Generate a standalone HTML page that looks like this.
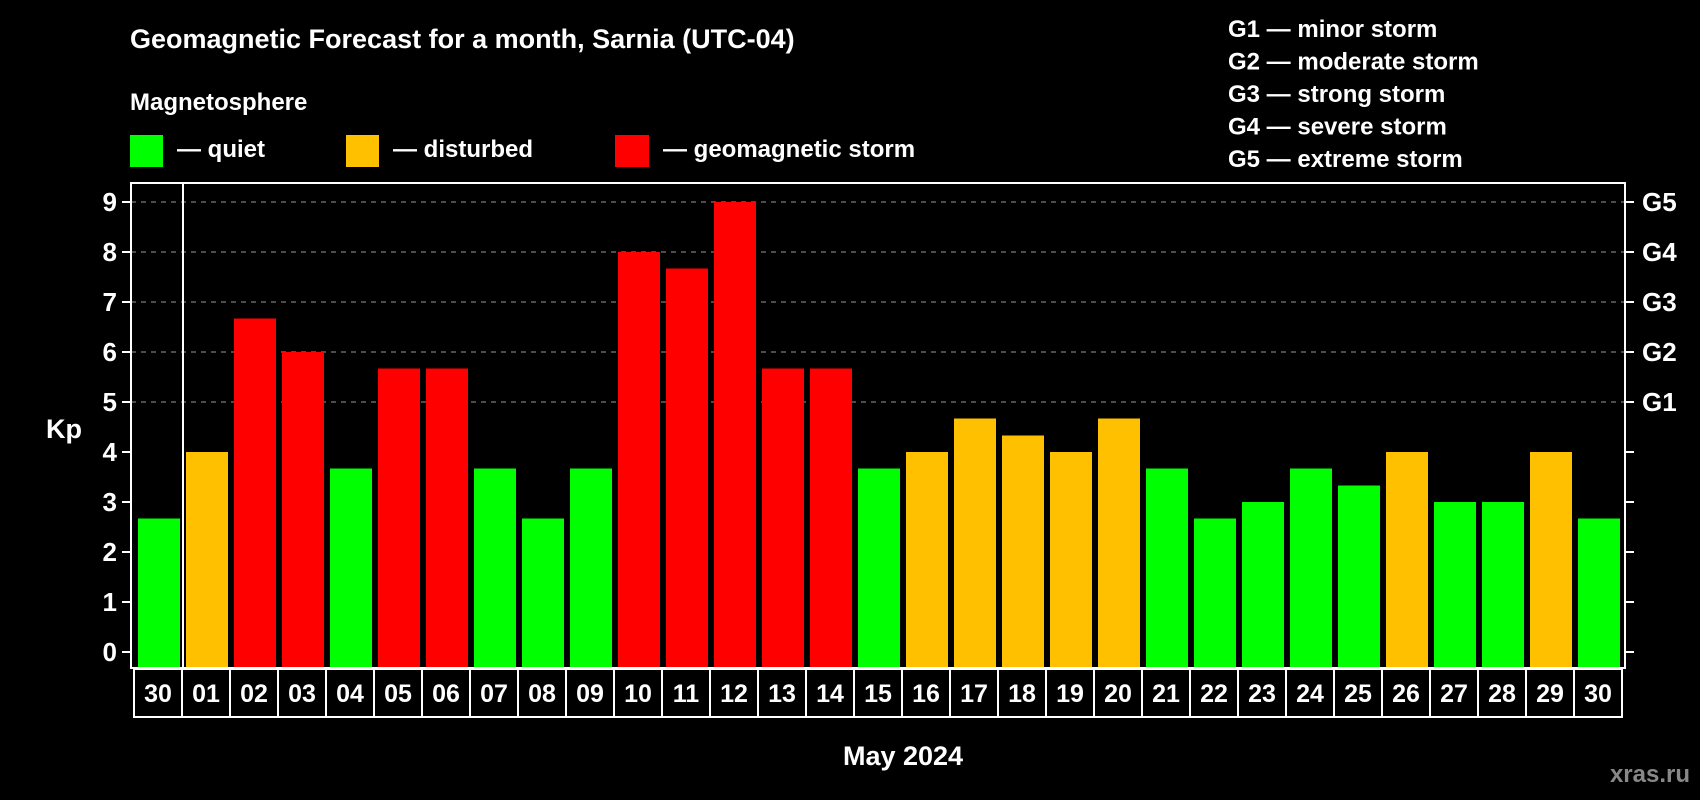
<!DOCTYPE html>
<html><head><meta charset="utf-8"><style>
html,body{margin:0;padding:0;background:#000;width:1700px;height:800px;overflow:hidden}
svg{display:block;font-family:"Liberation Sans",Arial,sans-serif;font-weight:bold}
</style></head><body>
<svg id="chart" width="1700" height="800" viewBox="0 0 1700 800">
<rect width="1700" height="800" fill="#000"/>
<text x="130" y="48" fill="#fff" font-size="27">Geomagnetic Forecast for a month, Sarnia (UTC-04)</text>
<text x="130" y="110" fill="#fff" font-size="24">Magnetosphere</text>
<g><rect x="130" y="135" width="33" height="32" fill="#00ff00"/><text x="177" y="157" fill="#fff" font-size="24">— quiet</text></g>
<g><rect x="346" y="135" width="33" height="32" fill="#ffc000"/><text x="393" y="157" fill="#fff" font-size="24">— disturbed</text></g>
<g><rect x="615" y="135" width="34" height="32" fill="#ff0000"/><text x="663" y="157" fill="#fff" font-size="24">— geomagnetic storm</text></g>
<g fill="#fff" font-size="24">
<text x="1228" y="37">G1 — minor storm</text>
<text x="1228" y="69.5">G2 — moderate storm</text>
<text x="1228" y="102">G3 — strong storm</text>
<text x="1228" y="134.5">G4 — severe storm</text>
<text x="1228" y="167">G5 — extreme storm</text>
</g>
<text x="64" y="438" fill="#fff" font-size="27" text-anchor="middle">Kp</text>
<text x="903" y="765" fill="#fff" font-size="27" text-anchor="middle">May 2024</text>
<text x="1690" y="782" fill="#888" font-size="24" text-anchor="end">xras.ru</text>
<g id="plot"></g>
</svg>
<script>
const days = ["30","01","02","03","04","05","06","07","08","09","10","11","12","13","14","15","16","17","18","19","20","21","22","23","24","25","26","27","28","29","30"];
const kpValues = [2.67,4,6.67,6,3.67,5.67,5.67,3.67,2.67,3.67,8,7.67,9,5.67,5.67,3.67,4,4.67,4.33,4,4.67,3.67,2.67,3,3.67,3.33,4,3,3,4,2.67];
const yTicks = [0,1,2,3,4,5,6,7,8,9];
const gLabels = ["G1","G2","G3","G4","G5"];
const gLevels = [5,6,7,8,9];

const NS="http://www.w3.org/2000/svg";
const plot=document.getElementById('plot');
const L=131,R=1625,T=183,B=668,Y0=652,UNIT=50,STEP=48,X0=134;
const y=v=>Y0-v*UNIT;
const x=i=>X0+i*STEP;
function mk(tag,attrs,parent){const e=document.createElementNS(NS,tag);for(const k in attrs)e.setAttribute(k,attrs[k]);(parent||plot).appendChild(e);return e;}
// gridlines
gLevels.forEach((v,i)=>{
  const g=mk('line',{x1:L,x2:R,y1:y(v),y2:y(v),stroke:'#999','stroke-dasharray':'5,5','stroke-width':1});
  
  
  const t=mk('text',{x:1642,y:y(v)+9,fill:'#fff','font-size':26});
  t.textContent=gLabels[i];
  
  
});
// bars
kpValues.forEach((v,i)=>{
  const c=v>=5?'#ff0000':(v>=4?'#ffc000':'#00ff00');
  const b=mk('rect',{x:x(i)+4,y:y(v),width:42,height:B-1-y(v),fill:c});
  
  
});
// ticks
yTicks.forEach(v=>{
  const l=mk('line',{x1:122,x2:L,y1:y(v),y2:y(v),stroke:'#fff','stroke-width':2});
  
  
  const r=mk('line',{x1:R,x2:1634,y1:y(v),y2:y(v),stroke:'#fff','stroke-width':2});
  
  
  const t=mk('text',{x:117,y:y(v)+9,fill:'#fff','font-size':26,'text-anchor':'end'});
  t.textContent=v;
  
  
});
// frame
const f=mk('rect',{x:L,y:T,width:R-L,height:B-T,fill:'none',stroke:'#fff','stroke-width':2});


const d=mk('line',{x1:x(1)+1,x2:x(1)+1,y1:T,y2:B,stroke:'#fff','stroke-width':2});


// date cells
days.forEach((s,i)=>{
  const r=mk('rect',{x:x(i),y:669,width:STEP,height:48,fill:'none',stroke:'#fff','stroke-width':2});
  
  
  const t=mk('text',{x:x(i)+STEP/2,y:702,fill:'#fff','font-size':25,'text-anchor':'middle'});
  t.textContent=s;
  
  
});
</script>
</body></html>
